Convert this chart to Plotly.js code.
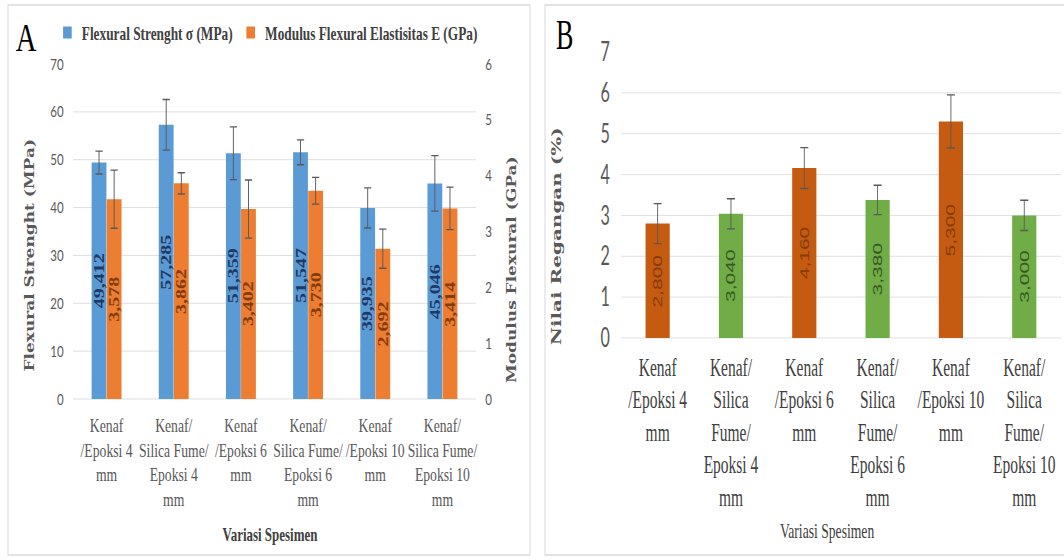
<!DOCTYPE html>
<html>
<head>
<meta charset="utf-8">
<script src="https://cdn.plot.ly/plotly-3.0.1.min.js"></script>
<style>
html, body { margin: 0; padding: 0; background: #ffffff; overflow: hidden; }
#wrap { position: relative; width: 1064px; height: 560px; overflow: hidden; background: #fff; }
#chartA { position: absolute; left: 0; top: 0; width: 750px; height: 560px; transform: scaleX(0.72); transform-origin: 0 0; }
#chartB { position: absolute; left: 540px; top: 0; width: 845px; height: 560px; transform: scaleX(0.62); transform-origin: 0 0; }
</style>
</head>
<body>
<div id="wrap"><div id="chartA"></div><div id="chartB"></div></div>
<script>
// ---------- Data: panel A ----------
const categoriesA = [
  'Kenaf<br>/Epoksi 4<br>mm',
  'Kenaf/<br>Silica Fume/<br>Epoksi 4<br>mm',
  'Kenaf<br>/Epoksi 6<br>mm',
  'Kenaf/<br>Silica Fume/<br>Epoksi 6<br>mm',
  'Kenaf<br>/Epoksi 10<br>mm',
  'Kenaf/<br>Silica Fume/<br>Epoksi 10<br>mm'
];
const seriesNamesA = ['Flexural Strenght σ (MPa)', 'Modulus Flexural Elastisitas E (GPa)'];
const flexuralStrength = [49.412, 57.285, 51.359, 51.547, 39.935, 45.046];
const flexuralStrengthErr = [2.4, 5.3, 5.5, 2.6, 4.2, 5.8];
const flexuralModulus = [3.578, 3.862, 3.402, 3.730, 2.692, 3.414];
const flexuralModulusErr = [0.52, 0.19, 0.52, 0.24, 0.35, 0.38];

// ---------- Data: panel B ----------
const categoriesB = [
  'Kenaf<br>/Epoksi 4<br>mm',
  'Kenaf/<br>Silica<br>Fume/<br>Epoksi 4<br>mm',
  'Kenaf<br>/Epoksi 6<br>mm',
  'Kenaf/<br>Silica<br>Fume/<br>Epoksi 6<br>mm',
  'Kenaf<br>/Epoksi 10<br>mm',
  'Kenaf/<br>Silica<br>Fume/<br>Epoksi 10<br>mm'
];
const strain = [2.800, 3.040, 4.160, 3.380, 5.300, 3.000];
const strainErr = [0.49, 0.37, 0.50, 0.36, 0.65, 0.37];

// ---------- Styles ----------
const barColorsB = ['#C55A11', '#70AD47', '#C55A11', '#70AD47', '#C55A11', '#70AD47'];
const labelColorsB = ['#843C0C', '#375623', '#843C0C', '#375623', '#843C0C', '#375623'];
const grid = '#D9D9D9';
const tickGray = '#595959';
const fmt = v => v.toFixed(3).replace('.', ',');

// ---------- helpers ----------
const py = v => 1 - v / 560;
const ann = (text, x, y, font, angle) => ({
  text: text, xref: 'paper', yref: 'paper', x: x, y: y, showarrow: false,
  xanchor: 'center', yanchor: 'middle', textangle: angle || 0, font: font
});

// ---------- Panel A ----------
const WA = 540; // visual width of panel A in page px
const px = v => v / WA;
const bargapA = 0.55;
const slotA = (1 - bargapA) / 2; // width of one offset group slot (category units)

const tracesA = [
  {
    type: 'bar', x: categoriesA, y: flexuralStrength, name: seriesNamesA[0],
    yaxis: 'y', offsetgroup: '1',
    marker: { color: '#5B9BD5' },
    error_y: { type: 'data', array: flexuralStrengthErr, visible: true, color: '#595959', thickness: 1.3, width: 5 },
    hoverinfo: 'skip'
  },
  {
    type: 'bar', x: categoriesA, y: flexuralModulus, name: seriesNamesA[1],
    yaxis: 'y2', offsetgroup: '2',
    marker: { color: '#ED7D31' },
    error_y: { type: 'data', array: flexuralModulusErr, visible: true, color: '#595959', thickness: 1.3, width: 5 },
    hoverinfo: 'skip'
  }
];

const labelFontA1 = { family: 'Liberation Serif', size: 20, color: '#1F3864', weight: 'bold' };
const labelFontA2 = { family: 'Liberation Serif', size: 20, color: '#843C0C', weight: 'bold' };
const barLabelsA = [];
flexuralStrength.forEach((v, i) => barLabelsA.push({
  text: '<b>' + fmt(v) + '</b>', xref: 'x', yref: 'y', x: i - slotA / 2, y: v / 2,
  textangle: -90, showarrow: false, xanchor: 'center', yanchor: 'middle', font: labelFontA1
}));
flexuralModulus.forEach((v, i) => barLabelsA.push({
  text: '<b>' + fmt(v) + '</b>', xref: 'x', yref: 'y2', x: i + slotA / 2, y: v / 2,
  textangle: -90, showarrow: false, xanchor: 'center', yanchor: 'middle', font: labelFontA2
}));

const layoutA = {
  width: 750, height: 560, autosize: false,
  margin: { l: 0, r: 0, t: 0, b: 0, pad: 0 },
  paper_bgcolor: '#ffffff', plot_bgcolor: '#ffffff',
  separators: ',.',
  barmode: 'group', bargap: bargapA, bargroupgap: 0.02,
  showlegend: true,
  legend: {
    orientation: 'h', x: px(53), xanchor: 'left', y: py(33), yanchor: 'middle',
    font: { family: 'Liberation Serif', size: 18.5, color: '#404040', weight: 'bold' },
    bgcolor: 'rgba(0,0,0,0)', itemclick: false, itemdoubleclick: false
  },
  xaxis: {
    domain: [px(73), px(476)], type: 'category', tickangle: 0,
    showgrid: false, showline: false, zeroline: false, ticks: '',
    tickfont: { family: 'Liberation Serif', size: 19, color: tickGray },
    ticklabelstandoff: 13, fixedrange: true
  },
  yaxis: {
    domain: [py(399), py(64)], range: [0, 70], tick0: 0, dtick: 10,
    showgrid: true, gridcolor: grid, gridwidth: 1,
    zeroline: true, zerolinecolor: grid, zerolinewidth: 1,
    showline: false, ticks: '',
    tickfont: { family: 'Lato', size: 16, color: tickGray },
    ticklabelstandoff: 12, fixedrange: true
  },
  yaxis2: {
    overlaying: 'y', side: 'right', range: [0, 6], tick0: 0, dtick: 1,
    showgrid: false, zeroline: false, showline: false, ticks: '',
    tickfont: { family: 'Lato', size: 16, color: tickGray },
    ticklabelstandoff: 12, fixedrange: true
  },
  shapes: [
    { type: 'rect', xref: 'paper', yref: 'paper', x0: px(8), x1: px(530), y0: py(555), y1: py(5),
      line: { color: '#D9D9D9', width: 1.3 }, fillcolor: 'rgba(0,0,0,0)', layer: 'below' }
  ],
  annotations: barLabelsA.concat([
    ann('A', px(26), py(38), { family: 'Liberation Serif', size: 40, color: '#000000' }),
    ann('<b>Flexural Strenght (MPa)</b>', px(30), py(255), { family: 'DejaVu Serif', size: 17, color: tickGray }, -90),
    ann('<b>Modulus Flexural (GPa)</b>', px(512), py(270), { family: 'DejaVu Serif', size: 17, color: tickGray }, -90),
    ann('<b>Variasi Spesimen</b>', px(270), py(535), { family: 'Liberation Serif', size: 18, color: '#404040' })
  ])
};

// ---------- Panel B ----------
const WB = 524;
const qx = v => (v - 540) / WB;

const tracesB = [
  {
    type: 'bar', x: categoriesB, y: strain, name: 'Nilai Regangan (%)', showlegend: false,
    marker: { color: barColorsB },
    error_y: { type: 'data', array: strainErr, visible: true, color: '#595959', thickness: 1.4, width: 6.5 },
    hoverinfo: 'skip'
  }
];

const barLabelsB = strain.map((v, i) => ({
  text: fmt(v), xref: 'x', yref: 'y', x: i, y: v / 2,
  textangle: -90, showarrow: false, xanchor: 'center', yanchor: 'middle',
  font: { family: 'Liberation Sans', size: 21, color: labelColorsB[i] }
}));

const layoutB = {
  width: 845, height: 560, autosize: false,
  margin: { l: 0, r: 0, t: 0, b: 0, pad: 0 },
  paper_bgcolor: 'rgba(0,0,0,0)', plot_bgcolor: '#ffffff',
  separators: ',.',
  bargap: 0.67,
  showlegend: false,
  xaxis: {
    domain: [qx(621), qx(1061)], type: 'category', tickangle: 0,
    showgrid: false, showline: false, zeroline: false, ticks: '',
    tickfont: { family: 'Liberation Serif', size: 25, color: '#404040' },
    ticklabelstandoff: 12, fixedrange: true
  },
  yaxis: {
    domain: [py(338), py(52)], range: [0, 7], tick0: 0, dtick: 1,
    showgrid: true, gridcolor: grid, gridwidth: 1,
    zeroline: true, zerolinecolor: grid, zerolinewidth: 1,
    showline: false, ticks: '',
    tickfont: { family: 'Lato', size: 26, color: tickGray },
    ticklabelstandoff: 17, fixedrange: true
  },
  shapes: [
    { type: 'rect', xref: 'paper', yref: 'paper', x0: qx(545), x1: 1.05, y0: py(555), y1: py(5),
      line: { color: '#D9D9D9', width: 1.6 }, fillcolor: 'rgba(0,0,0,0)', layer: 'below' }
  ],
  annotations: barLabelsB.concat([
    ann('B', qx(565), py(35), { family: 'Liberation Serif', size: 42, color: '#000000' }),
    ann('<b>Nilai Regangan (%)</b>', qx(557), py(236), { family: 'DejaVu Serif', size: 20, color: tickGray }, -90),
    ann('Variasi Spesimen', qx(827), py(530), { family: 'Liberation Serif', size: 22, color: '#404040' })
  ])
};

const config = { displayModeBar: false, staticPlot: true };
Plotly.newPlot('chartA', tracesA, layoutA, config);
Plotly.newPlot('chartB', tracesB, layoutB, config);
</script>
</body>
</html>
